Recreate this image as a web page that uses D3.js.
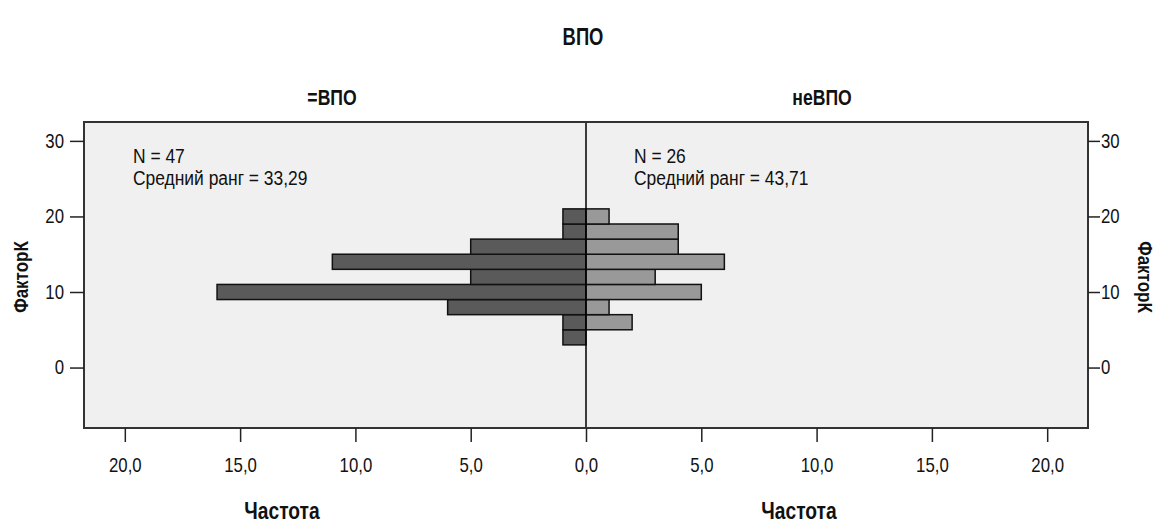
<!DOCTYPE html>
<html>
<head>
<meta charset="utf-8">
<script src="https://cdn.jsdelivr.net/npm/d3@7"></script>
<style>
    body { margin: 0; background: #fff; }
    text { font-family: "Liberation Sans", Arial, sans-serif; fill: #111; }
    .bold { font-weight: bold; }
</style>
</head>
<body>
<script>
// histogram bins of ФакторК (bin start, width 2)
var binStarts = [3, 5, 7, 9, 11, 13, 15, 17, 19];
var binWidth = 2;
var countsVPO = [1, 1, 6, 16, 5, 11, 5, 1, 1];      // =ВПО
var countsNeVPO = [0, 2, 1, 5, 3, 6, 4, 4, 1];      // неВПО
var freqTicks = [0, 5, 10, 15, 20];
var yTicks = [0, 10, 20, 30];
var groups = ["=ВПО", "неВПО"];
var stats = [
    { n: 47, rank: "33,29" },
    { n: 26, rank: "43,71" }
];

var svgWidth = 1156;
var svgHeight = 527;

var box = { left: 84, right: 1088, top: 122, bottom: 428 };
var mid = 586;

var svg = d3.select("body")
    .append("svg")
    .attr("width", svgWidth)
    .attr("height", svgHeight);

var yScale = d3.scaleLinear()
    .domain([-8, 32.5])
    .range([box.bottom, box.top]);

var xLeft = d3.scaleLinear()
    .domain([0, 21.77])
    .range([mid, box.left]);

var xRight = d3.scaleLinear()
    .domain([0, 21.77])
    .range([mid, box.right]);

var fmt = d => d3.format(".1f")(d).replace(".", ",");

// narrow text, like the squeezed spss export
function squeezed(parent, x, y, sx) {
    return parent.append("g")
        .attr("transform", `translate(${x}, ${y}) scale(${sx}, 1)`)
        .append("text");
}

// plot background
svg.append("rect")
    .attr("x", box.left)
    .attr("y", box.top)
    .attr("width", box.right - box.left)
    .attr("height", box.bottom - box.top)
    .attr("fill", "#f0f0f0");

// bars
var binData = binStarts.map((b, i) => ({ start: b, left: countsVPO[i], right: countsNeVPO[i] }));

svg.selectAll(".barL")
    .data(binData.filter(d => d.left > 0))
    .enter()
    .append("rect")
    .attr("class", "barL")
    .attr("x", d => xLeft(d.left))
    .attr("y", d => yScale(d.start + binWidth))
    .attr("width", d => xLeft(0) - xLeft(d.left))
    .attr("height", d => yScale(d.start) - yScale(d.start + binWidth))
    .attr("fill", "#5a5a5a")
    .attr("stroke", "#111")
    .attr("stroke-width", 1.5);

svg.selectAll(".barR")
    .data(binData.filter(d => d.right > 0))
    .enter()
    .append("rect")
    .attr("class", "barR")
    .attr("x", xRight(0))
    .attr("y", d => yScale(d.start + binWidth))
    .attr("width", d => xRight(d.right) - xRight(0))
    .attr("height", d => yScale(d.start) - yScale(d.start + binWidth))
    .attr("fill", "#999999")
    .attr("stroke", "#111")
    .attr("stroke-width", 1.5);

// center line
svg.append("line")
    .attr("x1", mid).attr("x2", mid)
    .attr("y1", box.top).attr("y2", box.bottom)
    .attr("stroke", "#000")
    .attr("stroke-width", 1.5);

// frame
svg.append("rect")
    .attr("x", box.left)
    .attr("y", box.top)
    .attr("width", box.right - box.left)
    .attr("height", box.bottom - box.top)
    .attr("fill", "none")
    .attr("stroke", "#333")
    .attr("stroke-width", 2);

// axes
function styleAxis(g) {
    g.select(".domain").remove();
    g.selectAll(".tick line").attr("stroke", "#222").attr("stroke-width", 1.5);
    g.selectAll(".tick text")
        .attr("font-size", 20)
        .attr("fill", "#222")
        .style("font-family", "'Liberation Sans', Arial, sans-serif")
        .each(function () {
            var t = d3.select(this);
            var x = +t.attr("x") || 0;
            var y = +t.attr("y") || 0;
            t.attr("x", 0).attr("y", 0)
                .attr("transform", `translate(${x}, ${y}) scale(0.84, 1)`);
        });
}

svg.append("g")
    .attr("transform", `translate(0, ${box.bottom})`)
    .call(d3.axisBottom(xLeft).tickValues(freqTicks).tickFormat(fmt).tickSize(14).tickPadding(16))
    .call(styleAxis);

svg.append("g")
    .attr("transform", `translate(0, ${box.bottom})`)
    .call(d3.axisBottom(xRight).tickValues(freqTicks.slice(1)).tickFormat(fmt).tickSize(14).tickPadding(16))
    .call(styleAxis);

svg.append("g")
    .attr("transform", `translate(${box.left}, 0)`)
    .call(d3.axisLeft(yScale).tickValues(yTicks).tickSize(14).tickPadding(6))
    .call(styleAxis);

svg.append("g")
    .attr("transform", `translate(${box.right}, 0)`)
    .call(d3.axisRight(yScale).tickValues(yTicks).tickSize(12).tickPadding(1))
    .call(styleAxis);

// titles
squeezed(svg, 583, 45, 0.8)
    .attr("class", "bold")
    .attr("text-anchor", "middle")
    .attr("font-size", 23)
    .text("ВПО");

var panelCenters = [(box.left + mid) / 2, (mid + box.right) / 2];

groups.forEach(function (g, i) {
    squeezed(svg, panelCenters[i] - 3 - i * 12, 105, 0.8)
        .attr("class", "bold")
        .attr("text-anchor", "middle")
        .attr("font-size", 22)
        .text(g);

    squeezed(svg, panelCenters[i] - 53 + i * 15, 519, 0.8)
        .attr("class", "bold")
        .attr("text-anchor", "middle")
        .attr("font-size", 24)
        .text("Частота");
});

// stats text
var statX = [133, 634];
stats.forEach(function (s, i) {
    var t = squeezed(svg, statX[i], 163, 0.83)
        .attr("font-size", 21)
        .attr("fill", "#222");
    t.append("tspan").attr("x", 0).text("N = " + s.n);
    t.append("tspan").attr("x", 0).attr("dy", 22).text("Средний ранг = " + s.rank);
});

// y labels
svg.append("text")
    .attr("class", "bold")
    .attr("transform", "translate(28, 277) rotate(-90) scale(0.85, 1)")
    .attr("text-anchor", "middle")
    .attr("font-size", 20)
    .text("ФакторК");

svg.append("text")
    .attr("class", "bold")
    .attr("transform", "translate(1138, 277) rotate(90) scale(0.85, 1)")
    .attr("text-anchor", "middle")
    .attr("font-size", 20)
    .text("ФакторК");
</script>
</body>
</html>
